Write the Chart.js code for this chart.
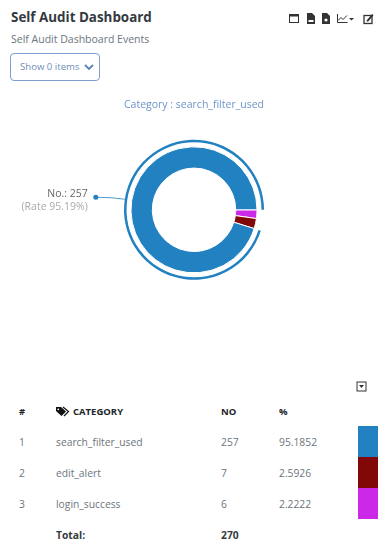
<!DOCTYPE html>
<html>
<head>
<meta charset="utf-8">
<title>Self Audit Dashboard</title>
<script src="https://cdn.jsdelivr.net/npm/chart.js@4"></script>
<style>
    html, body { margin: 0; padding: 0; background: #fff; }
    body { width: 384px; height: 553px; position: relative; overflow: hidden; font-family: "Open Sans", sans-serif; color: #6c757d; }
    .abs { position: absolute; white-space: nowrap; }
    #heading { left: 11px; top: 7px; font-size: 13.4px; font-weight: 700; color: #343a40; line-height: 20px; }
    #sub { left: 11px; top: 30px; font-size: 10.5px; color: #6c757d; line-height: 18px; }
    #btn { left: 10px; top: 53px; height: 26px; width: 79px; border: 1px solid #7a9fd0; border-radius: 4px; font-size: 9.6px; line-height: 26px; color: #6f8db8; padding-left: 9px; }
    #btn svg { position: absolute; left: 73px; top: 9px; }
    #chartBox { position: absolute; left: 0; top: 90px; width: 388px; height: 218px; }
    .th { font-size: 9.5px; font-weight: 700; color: #212529; line-height: 14px; }
    .td { font-size: 10.3px; color: #6c757d; line-height: 14px; }
    .tot { font-size: 10.3px; font-weight: 700; color: #343a40; line-height: 14px; }
    .swatch { position: absolute; left: 358px; width: 20px; }
</style>
</head>
<body>
<div class="abs" id="heading">Self Audit Dashboard</div>
<div class="abs" id="sub">Self Audit Dashboard Events</div>
<div class="abs" id="btn">Show 0 items
    <svg width="10" height="8" viewBox="0 0 10 8"><path d="M1 2 L5 6 L9 2" fill="none" stroke="#5b82bd" stroke-width="1.8"/></svg>
</div>

<!-- toolbar icons -->
<svg class="abs" style="left:288px;top:11px" width="86" height="14" viewBox="0 0 86 14">
    <rect x="1.5" y="3.5" width="9" height="8" fill="none" stroke="#333" stroke-width="1"/>
    <rect x="1" y="3" width="10" height="2.5" fill="#333"/>
    <path d="M19 2 h5 l3 3 v8 h-8 z" fill="#333"/>
    <rect x="20.5" y="9" width="5" height="2" fill="#fff"/>
    <path d="M34 2 h5 l3 3 v8 h-8 z" fill="#333"/>
    <circle cx="38" cy="9" r="1.6" fill="#fff"/>
    <path d="M49.5 3 v8.5 h10" fill="none" stroke="#333" stroke-width="1"/>
    <path d="M50 9.5 l3 -3 l2 2 l4 -4" fill="none" stroke="#333" stroke-width="1"/>
    <path d="M61 7 h5 l-2.5 2.5 z" fill="#333"/>
    <rect x="76" y="4.5" width="8" height="8" fill="none" stroke="#333" stroke-width="1.3"/>
    <path d="M79 9 l5 -6 l1.5 1.2 l-5 6 l-2 .5 z" fill="#333"/>
</svg>

<div id="chartBox"><canvas id="pieChart"></canvas></div>

<!-- export icon under the chart -->
<svg class="abs" style="left:356px;top:381px" width="12" height="12" viewBox="0 0 12 12">
    <rect x="1" y="1" width="9" height="9" fill="none" stroke="#333" stroke-width="1"/>
    <path d="M3 4 h5 l-2.5 3 z" fill="#333"/>
</svg>

<!-- tag icon in the table header -->
<svg class="abs" style="left:55px;top:406px" width="15" height="11" viewBox="0 0 15 11">
    <path d="M1 1 h5 l5 4.5 l-4.5 4.5 l-5.5 -5 z" fill="#111"/>
    <path d="M8 1 l5.5 4.5 l-4.5 4.5" fill="none" stroke="#111" stroke-width="1.2"/>
    <circle cx="3.3" cy="3.3" r="0.9" fill="#fff"/>
</svg>

<div id="table"></div>

<script>
// ------------------------------
// Data
// ------------------------------
const categories = ["search_filter_used", "edit_alert", "login_success"];
const counts = [257, 7, 6];
const percents = ["95.1852", "2.5926", "2.2222"];
const colors = ["#2181c1", "#820707", "#cb28e8"];
const totalCount = "270";

// ------------------------------
// Table below the chart
// ------------------------------
const table = document.getElementById("table");

function addCell(text, cls, left, top) {
    const el = document.createElement("div");
    el.className = "abs " + cls;
    el.style.left = left + "px";
    el.style.top = top + "px";
    el.textContent = text;
    table.appendChild(el);
}

addCell("#", "th", 19, 405);
addCell("CATEGORY", "th", 73, 405);
addCell("NO", "th", 221, 405);
addCell("%", "th", 279, 405);

const rowTops = [435, 466, 497];
categories.forEach(function (name, i) {
    addCell(String(i + 1), "td", 19, rowTops[i]);
    addCell(name, "td", 56, rowTops[i]);
    addCell(String(counts[i]), "td", 221, rowTops[i]);
    addCell(percents[i], "td", 279, rowTops[i]);

    const sw = document.createElement("div");
    sw.className = "swatch";
    sw.style.top = (426 + i * 31) + "px";
    sw.style.height = "31px";
    sw.style.background = colors[i];
    table.appendChild(sw);
});
addCell("Total:", "tot", 56, 528);
addCell(totalCount, "tot", 221, 528);

// ------------------------------
// Leader line and label for the largest slice
// ------------------------------
const leaderLabel = {
    id: "leaderLabel",
    afterDatasetsDraw(chart) {
        const arc = chart.getDatasetMeta(0).data[2];
        const mid = (arc.startAngle + arc.endAngle) / 2;
        const ax = arc.x + Math.cos(mid) * arc.outerRadius;
        const ay = arc.y + Math.sin(mid) * arc.outerRadius;
        const dx = ax - 29;
        const dy = ay - 2;
        const c = chart.ctx;
        c.save();
        c.strokeStyle = colors[0];
        c.lineWidth = 0.8;
        c.beginPath();
        c.moveTo(ax, ay);
        c.quadraticCurveTo(ax - 12, ay - 2, dx, dy);
        c.stroke();
        c.fillStyle = colors[0];
        c.beginPath();
        c.arc(dx, dy, 2.5, 0, Math.PI * 2);
        c.fill();
        c.textAlign = "right";
        c.textBaseline = "middle";
        c.font = '10.5px "Open Sans"';
        c.fillStyle = "#666666";
        c.fillText("No.: " + counts[0], dx - 8, dy - 3.3);
        c.fillStyle = "#aaaaaa";
        c.fillText("(Rate " + Number(percents[0]).toFixed(2) + "%)", dx - 8, dy + 9.4);
        c.restore();
    }
};

// ------------------------------
// Chart.js Code
// ------------------------------
// the ring runs anticlockwise in the source, so feed it reversed from the east
const ringValues = counts.slice().reverse();
const ringColors = colors.slice().reverse();
const ringLabels = categories.slice().reverse();

new Chart(document.getElementById("pieChart"), {
    type: "doughnut",
    plugins: [leaderLabel],
    data: {
        labels: ringLabels,
        datasets: [
            {
                data: ringValues,
                backgroundColor: ["transparent", "transparent", colors[0]],
                borderWidth: 0,
                weight: 2.5
            },
            {
                data: ringValues,
                backgroundColor: "transparent",
                borderWidth: 0,
                weight: 4.5
            },
            {
                data: ringValues,
                backgroundColor: ringColors,
                borderColor: "#ffffff",
                borderWidth: 1,
                weight: 21.3
            }
        ]
    },
    options: {
        responsive: true,
        maintainAspectRatio: false,
        animation: false,
        rotation: 90,
        cutout: "59.6%",
        radius: 70,
        plugins: {
            legend: { display: false },
            tooltip: { enabled: false },
            title: {
                display: true,
                text: "Category : " + categories[0],
                color: "#6f94c8",
                font: { family: "Open Sans", size: 10.5, weight: "normal" },
                padding: { top: 9, bottom: 0 }
            }
        }
    }
});
</script>
</body>
</html>
